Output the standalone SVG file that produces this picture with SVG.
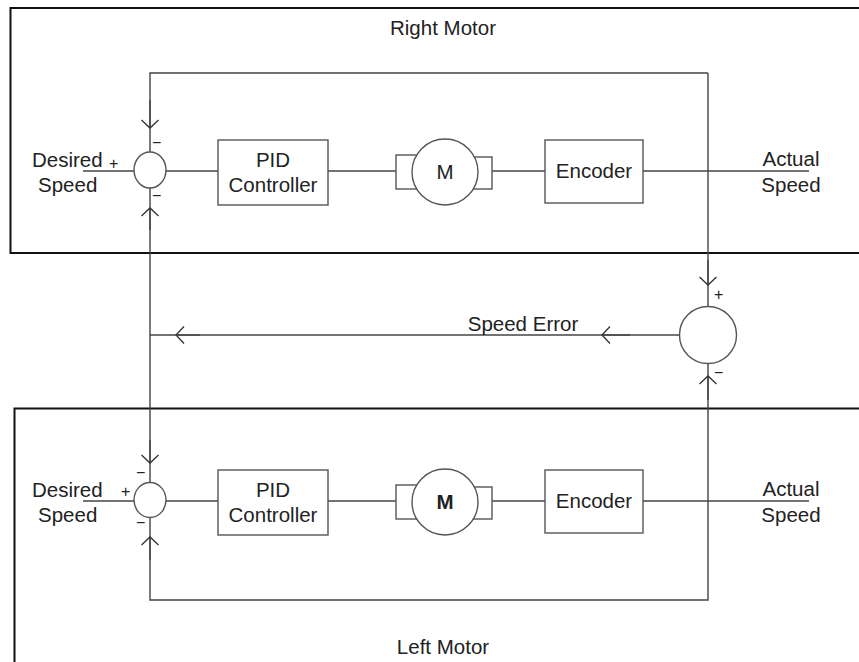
<svg xmlns="http://www.w3.org/2000/svg" width="859" height="662" viewBox="0 0 859 662">
<defs>
<marker id="ah" viewBox="0 0 20 20" refX="18" refY="10" markerWidth="20" markerHeight="20" markerUnits="userSpaceOnUse" orient="auto">
<path d="M10,1.5 L18,10 L10,18.5" fill="none" stroke="#333" stroke-width="1.3"/>
</marker>
<style>
.frame{fill:none;stroke:#111;stroke-width:2}
.box{fill:#fff;stroke:#555;stroke-width:1.4}
.ln{fill:none;stroke:#444;stroke-width:1.4}
.t{font-family:"Liberation Sans",Arial,sans-serif;font-size:20.5px;fill:#222}
.s{font-family:"Liberation Sans",Arial,sans-serif;font-size:16px;fill:#222}
</style>
</defs>
<rect width="859" height="662" fill="#fff"/>
<g id="right-motor-frame">
<polyline class="frame" points="861,8 10.5,8 10.5,253 861,253"/>
<text class="t" x="443" y="35" text-anchor="middle">Right Motor</text>
</g>
<g id="left-motor-frame">
<polyline class="frame" points="861,408.5 14.5,408.5 14.5,664"/>
<text class="t" x="443" y="654" text-anchor="middle">Left Motor</text>
</g>
<g id="connectors">
<line class="ln" x1="83" y1="171" x2="134" y2="171"/>
<line class="ln" x1="166" y1="171" x2="218" y2="171"/>
<line class="ln" x1="328" y1="171" x2="396" y2="171"/>
<line class="ln" x1="492" y1="171" x2="545" y2="171"/>
<line class="ln" x1="643" y1="171" x2="809" y2="171"/>
<polyline class="ln" points="708,73 150,73 150,152"/>
<line class="ln" x1="150" y1="100" x2="150" y2="128" marker-end="url(#ah)"/>
<line class="ln" x1="708" y1="73" x2="708" y2="306"/>
<line class="ln" x1="708" y1="260" x2="708" y2="285" marker-end="url(#ah)"/>
<line class="ln" x1="150" y1="188" x2="150" y2="483"/>
<line class="ln" x1="150" y1="230" x2="150" y2="208" marker-end="url(#ah)"/>
<line class="ln" x1="679" y1="335" x2="150" y2="335"/>
<line class="ln" x1="630" y1="335" x2="602" y2="335" marker-end="url(#ah)"/>
<line class="ln" x1="200" y1="335" x2="176" y2="335" marker-end="url(#ah)"/>
<line class="ln" x1="150" y1="440" x2="150" y2="463" marker-end="url(#ah)"/>
<line class="ln" x1="83" y1="501" x2="134" y2="501"/>
<line class="ln" x1="166" y1="501" x2="218" y2="501"/>
<line class="ln" x1="328" y1="501" x2="396" y2="501"/>
<line class="ln" x1="492" y1="501" x2="545" y2="501"/>
<line class="ln" x1="643" y1="501" x2="809" y2="501"/>
<polyline class="ln" points="150,518 150,600 708,600 708,364"/>
<line class="ln" x1="150" y1="560" x2="150" y2="537" marker-end="url(#ah)"/>
<line class="ln" x1="708" y1="400" x2="708" y2="376" marker-end="url(#ah)"/>
</g>
<g id="right-sum">
<ellipse class="box" cx="150" cy="170" rx="16" ry="18"/>
<text class="s" x="109" y="169">+</text>
<text class="s" x="152" y="148">−</text>
<text class="s" x="152" y="201">−</text>
</g>
<g id="right-desired">
<text class="t" x="32" y="167">Desired</text>
<text class="t" x="38" y="192">Speed</text>
</g>
<g id="right-pid">
<rect class="box" x="218" y="140" width="110" height="65"/>
<text class="t" x="273" y="167" text-anchor="middle">PID</text>
<text class="t" x="273" y="192" text-anchor="middle">Controller</text>
</g>
<g id="right-motor">
<rect class="box" x="396" y="155" width="22" height="34"/>
<rect class="box" x="472" y="157" width="20" height="32"/>
<circle class="box" cx="445" cy="172" r="33"/>
<text class="t" x="445" y="179" text-anchor="middle">M</text>
</g>
<g id="right-encoder">
<rect class="box" x="545" y="140" width="98" height="63"/>
<text class="t" x="594" y="178" text-anchor="middle">Encoder</text>
</g>
<g id="right-actual">
<text class="t" x="791" y="166" text-anchor="middle">Actual</text>
<text class="t" x="791" y="192" text-anchor="middle">Speed</text>
</g>
<g id="error-sum">
<circle class="box" cx="708" cy="335" r="28.5"/>
<text class="s" x="714" y="300">+</text>
<text class="s" x="714" y="378">−</text>
</g>
<g id="speed-error-label">
<text class="t" x="523" y="331" text-anchor="middle">Speed Error</text>
</g>
<g id="left-sum">
<ellipse class="box" cx="150" cy="500" rx="16" ry="17.5"/>
<text class="s" x="121" y="497">+</text>
<text class="s" x="136" y="478">−</text>
<text class="s" x="136" y="528">−</text>
</g>
<g id="left-desired">
<text class="t" x="32" y="497">Desired</text>
<text class="t" x="38" y="522">Speed</text>
</g>
<g id="left-pid">
<rect class="box" x="218" y="470" width="110" height="65"/>
<text class="t" x="273" y="497" text-anchor="middle">PID</text>
<text class="t" x="273" y="522" text-anchor="middle">Controller</text>
</g>
<g id="left-motor">
<rect class="box" x="396" y="485" width="22" height="34"/>
<rect class="box" x="472" y="487" width="20" height="32"/>
<circle class="box" cx="445" cy="502" r="33"/>
<text class="t" x="445" y="509" text-anchor="middle" font-weight="bold">M</text>
</g>
<g id="left-encoder">
<rect class="box" x="545" y="470" width="98" height="63"/>
<text class="t" x="594" y="508" text-anchor="middle">Encoder</text>
</g>
<g id="left-actual">
<text class="t" x="791" y="496" text-anchor="middle">Actual</text>
<text class="t" x="791" y="522" text-anchor="middle">Speed</text>
</g>
</svg>
